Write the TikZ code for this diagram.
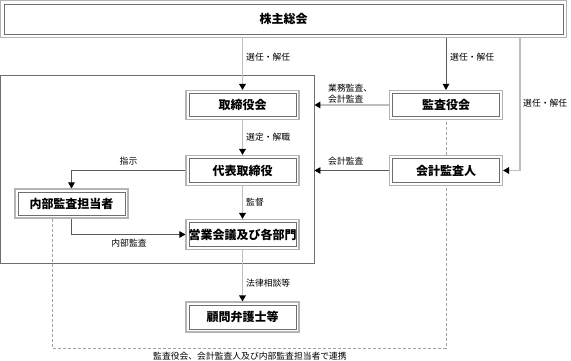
\documentclass[tikz,border=0pt]{standalone}
\usepackage{fontspec}
\newfontfamily\jp{Noto Sans CJK JP}
\usetikzlibrary{arrows.meta}
\definecolor{boxout}{HTML}{B4B4B4}
\definecolor{boxin}{HTML}{6E6E6E}
\definecolor{lightln}{HTML}{BEBEBE}
\definecolor{darkln}{HTML}{5A5A5A}
\definecolor{dashln}{HTML}{A0A0A0}
\tikzset{
  dbox/.style={draw=boxout, line width=1.1pt, fill=white, minimum width=113pt, minimum height=30pt, inner sep=0pt,
    font=\jp\bfseries\fontsize{12pt}{13pt}\selectfont,
    path picture={\draw[boxin, line width=0.7pt] ([shift={(3pt,-3pt)}]path picture bounding box.north west) rectangle ([shift={(-3pt,3pt)}]path picture bounding box.south east);}},
  lbl/.style={inner sep=0pt, font=\jp\fontsize{8.8pt}{10pt}\selectfont},
  tip/.style={-{Triangle[length=6pt,width=6.5pt,color=black,fill=black]}},
  lightc/.style={draw=lightln, line width=1.6pt, tip},
  darkc/.style={draw=darkln, line width=0.6pt, tip},
  dashc/.style={draw=dashln, line width=0.9pt, dash pattern=on 3pt off 2pt},
}
\begin{document}
\begin{tikzpicture}[x=1pt,y=-1pt]
\useasboundingbox (0,0) rectangle (571,361);
% large frame
\node[draw=boxin, line width=0.8pt, minimum width=313.5pt, minimum height=188.5pt, inner sep=0pt] (bb) at (157.25,169.25) {};
% top box
\node[dbox, minimum width=566pt, minimum height=37pt,
  path picture={\draw[boxin, line width=0.7pt] ([shift={(3.5pt,-3.5pt)}]path picture bounding box.north west) rectangle ([shift={(-3.5pt,3.5pt)}]path picture bounding box.south east);}] (sh) at (283.5,19) {株主総会};
\node[dbox, minimum height=29pt] (tb) at (242.5,105) {取締役会};
\node[dbox, minimum height=29pt] (ka) at (446,105) {監査役会};
\node[dbox] (dh) at (242.5,170.5) {代表取締役};
\node[dbox] (kk) at (446,170.5) {会計監査人};
\node[dbox, minimum height=29pt] (nb) at (71.5,203.5) {内部監査担当者};
\node[dbox] (eg) at (242.5,234.5) {営業会議及び各部門};
\node[dbox] (kb) at (242.5,317) {顧問弁護士等};
\coordinate (rx) at (520,38);
\coordinate (dc) at (446,348);
% dashed liaison
\draw[dashc] ([xshift=-19pt]nb.south) |- (dc) -- (kk.south);
\draw[dashc] (kk.north) -- (ka.south);
% connectors
\draw[lightc] (sh.south -| tb.north) -- (tb.north);
\draw[darkc] (sh.south -| ka.north) -- (ka.north);
\draw[lightc] (rx) |- (kk.east);
\draw[lightc] (ka.west) -- (ka.west -| bb.east);
\draw[darkc] (kk.west) -- (kk.west -| bb.east);
\draw[lightc] (tb.south) -- (dh.north);
\draw[darkc] (dh.west) -| (nb.north);
\draw[lightc] (dh.south) -- (eg.north);
\draw[darkc] (nb.south) |- (eg.west);
\draw[lightc] (eg.south) -- (kb.north);
% labels
\node[lbl, anchor=west] (l1) at (246,57) {選任・解任};
\node[lbl, anchor=west] (l2) at (450,57) {選任・解任};
\node[lbl, anchor=west] (l3) at (523,103) {選任・解任};
\node[lbl, anchor=west] (l4) at (328,88) {業務監査、};
\node[lbl, anchor=west] (l5) at (328,99.5) {会計監査};
\node[lbl, anchor=west] (l6) at (328,161) {会計監査};
\node[lbl, anchor=west] (l7) at (246,137) {選定・解職};
\node[lbl] (l8) at (128.5,161.5) {指示};
\node[lbl, anchor=west] (l9) at (246,202) {監督};
\node[lbl] (l10) at (129,243) {内部監査};
\node[lbl, anchor=west] (l11) at (246,283.5) {法律相談等};
\node[lbl] (l12) at (250,356) {監査役会、会計監査人及び内部監査担当者で連携};
\end{tikzpicture}
\end{document}
